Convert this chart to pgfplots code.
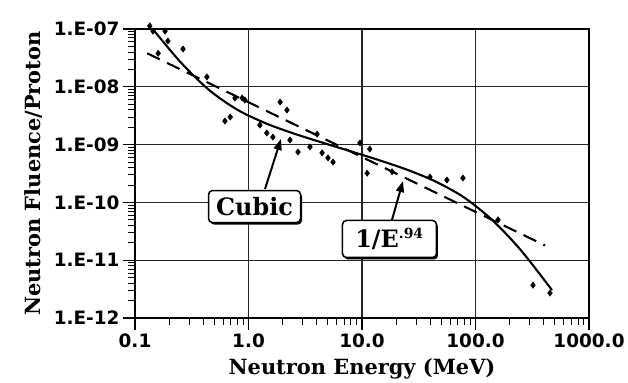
\documentclass[border=0pt]{standalone}
\usepackage{pgfplots}
\pgfplotsset{compat=1.18}
\usepackage{fontspec}
\setmainfont{DejaVu Serif}
\newfontfamily\ticksf{DejaVu Sans}
\usetikzlibrary{shadows,arrows.meta}
\begin{document}
\begin{tikzpicture}
\useasboundingbox (-135bp,-65bp) rectangle (493bp,318bp);
\begin{axis}[
  at={(0,0)}, anchor=south west,
  scale only axis, width=454bp, height=289bp,
  xmode=log, ymode=log,
  xmin=0.1, xmax=1000, ymin=1e-12, ymax=1e-7,
  xtick={0.1,1,10,100,1000},
  xticklabels={0.1,1.0,10.0,100.0,1000.0},
  ytick={1e-12,1e-11,1e-10,1e-9,1e-8,1e-7},
  yticklabels={1.E-12,1.E-11,1.E-10,1.E-09,1.E-08,1.E-07},
  minor xtick={0.2,0.3,0.4,0.5,0.6,0.7,0.8,0.9,2,3,4,5,6,7,8,9,20,30,40,50,60,70,80,90,200,300,400,500,600,700,800,900},
  minor ytick={2e-12,3e-12,4e-12,5e-12,6e-12,7e-12,8e-12,9e-12,2e-11,3e-11,4e-11,5e-11,6e-11,7e-11,8e-11,9e-11,2e-10,3e-10,4e-10,5e-10,6e-10,7e-10,8e-10,9e-10,2e-9,3e-9,4e-9,5e-9,6e-9,7e-9,8e-9,9e-9,2e-8,3e-8,4e-8,5e-8,6e-8,7e-8,8e-8,9e-8},
  xtick pos=bottom, ytick pos=left,
  tick align=outside, major tick length=12bp, minor tick length=7bp,
  every tick/.style={black, line width=1.3bp},
  minor tick style={black, line width=1bp},
  xmajorgrids, ymajorgrids,
  major grid style={black!85, line width=1.3bp},
  axis line style={black, line width=2.6bp},
  tick label style={font=\ticksf\bfseries\fontsize{18.5}{20}\selectfont},
  xlabel={Neutron Energy (MeV)}, ylabel={Neutron Fluence/Proton},
  label style={font=\bfseries\fontsize{21}{24}\selectfont},
  ylabel style={yshift=4bp},
  xlabel style={yshift=-4bp},
  clip=false,
]
\addplot[black, line width=2.1bp, smooth] coordinates {
(0.1445,9.8e-8) (0.2512,2.69e-8) (0.4467,8.89e-9) (0.7943,4.03e-9) (1.4125,2.344e-9)
(2.512,1.552e-9) (4.467,1.084e-9) (7.943,7.67e-10) (14.125,5.38e-10) (25.12,3.66e-10)
(44.67,2.29e-10) (79.43,1.216e-10) (141.25,4.91e-11) (251.2,1.489e-11) (472,3.04e-12)};
\addplot[black, line width=2.1bp, dash pattern=on 14bp off 8bp] coordinates {
(0.128,3.8e-8) (410,1.8e-11)};
\addplot[only marks, mark=diamond*, mark size=3.2bp, black] coordinates {
(0.135,1.13e-7) (0.144,9.2e-8) (0.184,9.2e-8) (0.195,6.2e-8) (0.265,4.5e-8)
(0.160,3.8e-8) (0.43,1.48e-8) (0.76,6.4e-9) (0.88,6.4e-9) (0.93,5.9e-9)
(0.62,2.56e-9) (0.69,3.0e-9) (1.90,5.45e-9) (2.18,3.97e-9) (1.26,2.18e-9)
(1.45,1.59e-9) (1.64,1.35e-9) (2.32,1.20e-9) (2.73,7.45e-10) (3.48,9.1e-10)
(4.02,1.52e-9) (4.45,7.2e-10) (5.02,5.9e-10) (5.55,5.0e-10) (9.6,1.07e-9)
(11.7,8.4e-10) (11.1,3.2e-10) (18.4,3.4e-10) (39.7,2.75e-10) (56,2.44e-10)
(77.6,2.64e-10) (158,5.0e-11) (321,3.7e-12) (453,2.7e-12)};
\draw[-{Triangle[length=11bp,width=8bp]}, line width=2bp] (axis cs:1.398,1.706e-10) -- (axis cs:1.933,1.25e-9);
\draw[-{Triangle[length=11bp,width=8bp]}, line width=2bp] (axis cs:18.37,4.96e-11) -- (axis cs:22.96,2.34e-10);
\node[draw=black, line width=1.5bp, fill=white, rounded corners=4bp, minimum width=92bp, minimum height=32bp,
  drop shadow={shadow xshift=1.5bp, shadow yshift=-2bp, fill=black, opacity=1},
  font=\bfseries\fontsize{24}{26}\selectfont] at (axis cs:1.13,8.49e-11) {Cubic};
\node[draw=black, line width=1.5bp, fill=white, rounded corners=4bp, minimum width=94bp, minimum height=37bp,
  drop shadow={shadow xshift=1.5bp, shadow yshift=-2bp, fill=black, opacity=1},
  font=\bfseries\fontsize{24}{26}\selectfont] at (axis cs:17.47,2.33e-11) {1/E\textsuperscript{\fontsize{14}{14}\selectfont .94}};
\end{axis}
\end{tikzpicture}
\end{document}
